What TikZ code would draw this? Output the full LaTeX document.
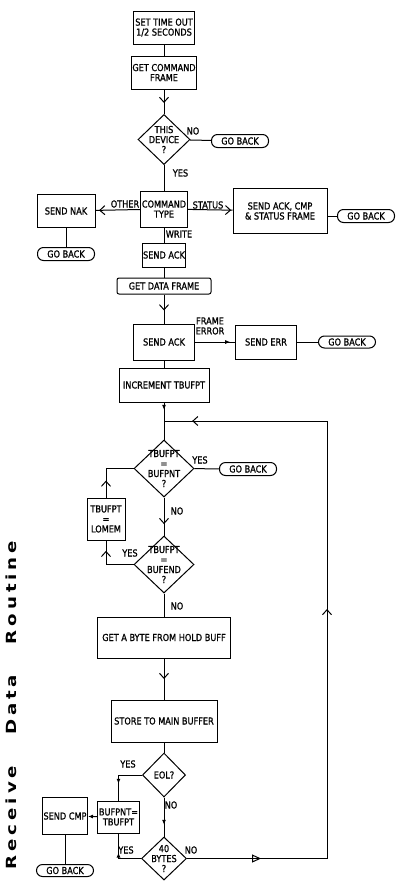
\documentclass[tikz,border=0pt]{standalone}
\usepackage{fontspec}
\usepackage{tikz}
\usetikzlibrary{shapes.geometric,arrows.meta,decorations.markings}
\newfontfamily\flowfont[FakeStretch=0.85,FakeBold=1]{DejaVu Sans}
\newfontfamily\titlefont[FakeStretch=1.3,LetterSpace=28,WordSpace=3]{DejaVu Sans}
\newcommand\flowtext{\flowfont\fontsize{9.6}{10}\selectfont}
\tikzset{
  vmark/.style={postaction={decorate,decoration={markings,mark=at position #1 with {\arrow{Straight Barb[length=5pt,width=9pt]}}}}},
  fmark/.style={postaction={decorate,decoration={markings,mark=at position #1 with {\arrow{Latex[length=5pt,width=4pt]}}}}},
  tmark/.style={postaction={decorate,decoration={markings,mark=at position #1 with {\arrow{Triangle[open,length=9pt,width=8pt]}}}}},
  flow/.style={line width=1pt},
  box/.style={draw,line width=1pt,inner sep=1pt,align=center,font=\flowtext},
  decision/.style={draw,diamond,line width=1pt,inner sep=0pt},
  goback/.style={draw,line width=1pt,rounded corners=6pt,inner sep=0pt,minimum width=57pt,minimum height=13pt,font=\flowtext},
  lbl/.style={inner sep=0pt,font=\flowtext,align=center}
}
\begin{document}
\begin{tikzpicture}[x=1pt,y=-1pt]
  \useasboundingbox (0,0) rectangle (400,887);
  \node[rotate=90,font=\titlefont\bfseries\fontsize{14}{14}\selectfont] (title) at (11,705) {Receive Data Routine};

  \node[box,minimum width=61pt,minimum height=33pt] (timeout) at (164,27.5) {SET TIME OUT\\1/2 SECONDS};
  \node[box,minimum width=61pt,minimum height=33pt] (getcmd) at (164,72.5) {GET COMMAND\\FRAME};
  \node[decision,minimum width=52pt,minimum height=50pt,label={[lbl]center:{THIS\\DEVICE\\?}}] (device) at (164,139.5) {};
  \node[goback] (gbdevice) at (240,141) {GO BACK};
  \node[box,minimum width=36pt,minimum height=36pt] (cmdtype) at (164,209) {COMMAND\\TYPE};
  \node[box,minimum width=58pt,minimum height=33pt] (sendnak) at (66,211) {SEND NAK};
  \node[goback] (gbnak) at (66,254) {GO BACK};
  \node[box,minimum width=94pt,minimum height=45pt] (status) at (280,211) {SEND ACK, CMP\\\& STATUS FRAME};
  \node[goback] (gbstatus) at (366,216) {GO BACK};
  \node[box,minimum width=42pt,minimum height=24pt] (ackwrite) at (164,255) {SEND ACK};
  \node[box,rounded corners=2pt,minimum width=94pt,minimum height=16pt] (getdata) at (164,286) {GET DATA FRAME};
  \node[box,minimum width=61pt,minimum height=36pt] (ackdata) at (164,342) {SEND ACK};
  \node[box,minimum width=61pt,minimum height=34pt] (senderr) at (266,342) {SEND ERR};
  \node[goback,minimum height=12pt] (gberr) at (347,342) {GO BACK};
  \node[box,minimum width=90pt,minimum height=34pt] (incr) at (164,385) {INCREMENT TBUFPT};
  \coordinate (join) at (164,421);
  \node[decision,minimum width=60pt,minimum height=57pt,label={[lbl]center:{TBUFPT\\=\\BUFPNT\\?}}] (bufpnt) at (164,468.5) {};
  \node[goback] (gbbufpnt) at (248,469) {GO BACK};
  \node[box,minimum width=38pt,minimum height=42pt] (lomem) at (106,519) {TBUFPT\\=\\LOMEM};
  \node[decision,minimum width=60pt,minimum height=57pt,label={[lbl]center:{TBUFPT\\=\\BUFEND\\?}}] (bufend) at (164,564.5) {};
  \node[box,minimum width=133pt,minimum height=41pt] (getbyte) at (164,637.5) {GET A BYTE FROM HOLD BUFF};
  \node[box,minimum width=106pt,minimum height=42pt] (store) at (164,721) {STORE TO MAIN BUFFER};
  \node[decision,minimum width=43pt,minimum height=44pt,label={[lbl]center:EOL?}] (eol) at (164,775) {};
  \node[box,minimum width=37pt,minimum height=32pt] (setpnt) at (118.5,817) {BUFPNT=\\TBUFPT};
  \node[box,minimum width=42pt,minimum height=37pt] (sendcmp) at (65,816) {SEND CMP};
  \node[goback,minimum height=12pt] (gbcmp) at (65,870.5) {GO BACK};
  \node[decision,minimum width=45pt,minimum height=43pt,label={[lbl]center:{40\\BYTES\\?}}] (forty) at (164,858.5) {};
  \coordinate (loopbot) at (327,858.5);
  \coordinate (looptop) at (327,421);

  \draw[flow] (timeout) -- (getcmd);
  \draw[flow,vmark=0.55] (getcmd) -- (device);
  \draw[flow] (device) -- (gbdevice);
  \draw[flow] (device) -- (cmdtype);
  \draw[flow,vmark=0.92] (cmdtype) -- (sendnak);
  \draw[flow] (sendnak) -- (gbnak);
  \draw[flow,vmark=0.97] (cmdtype) -- (status);
  \draw[flow] (status.east |- gbstatus) -- (gbstatus);
  \draw[flow] (cmdtype) -- (ackwrite);
  \draw[flow] (ackwrite) -- (getdata);
  \draw[flow,vmark=0.55] (getdata) -- (ackdata);
  \draw[flow,fmark=0.88] (ackdata) -- (senderr);
  \draw[flow] (senderr) -- (gberr);
  \draw[flow] (ackdata) -- (incr);
  \draw[flow,fmark=0.2] (incr) -- (bufpnt);
  \draw[flow] (bufpnt) -- (gbbufpnt);
  \draw[flow,vmark=0.3] (lomem) |- (bufpnt);
  \draw[flow,vmark=0.7] (bufpnt) -- (bufend);
  \draw[flow,vmark=0.8] (bufend) -| (lomem);
  \draw[flow] (bufend) -- (getbyte);
  \draw[flow,vmark=0.5] (getbyte) -- (store);
  \draw[flow] (store) -- (eol);
  \draw[flow,fmark=0.66] (eol) -| (setpnt);
  \draw[flow,-{Latex[length=5pt,width=4pt]}] (setpnt) -- (sendcmp);
  \draw[flow] (sendcmp) -- (gbcmp);
  \draw[flow,fmark=0.7] (eol) -- (forty);
  \draw[flow,fmark=0.6] (forty) -| (setpnt);
  \draw[flow,tmark=0.1,vmark=0.526,vmark=0.962] (forty.east) -- (loopbot) -- (looptop) -- (join);

  \node[lbl] (nodevice) at (193,131) {NO};
  \node[lbl] (yesdevice) at (180.5,173) {YES};
  \node[lbl] (other) at (125,204) {OTHER};
  \node[lbl] (statuslbl) at (208,205) {STATUS};
  \node[lbl] (write) at (179,234) {WRITE};
  \node[lbl] (frameerr) at (210,326) {FRAME\\ERROR};
  \node[lbl] (yesbufpnt) at (200,460) {YES};
  \node[lbl] (nobufpnt) at (177,511) {NO};
  \node[lbl] (yesbufend) at (130,553) {YES};
  \node[lbl] (nobufend) at (177,606) {NO};
  \node[lbl] (yeseol) at (128,764) {YES};
  \node[lbl] (noeol) at (171,805) {NO};
  \node[lbl] (yesforty) at (126,850) {YES};
  \node[lbl] (noforty) at (191,850) {NO};
\end{tikzpicture}
\end{document}
